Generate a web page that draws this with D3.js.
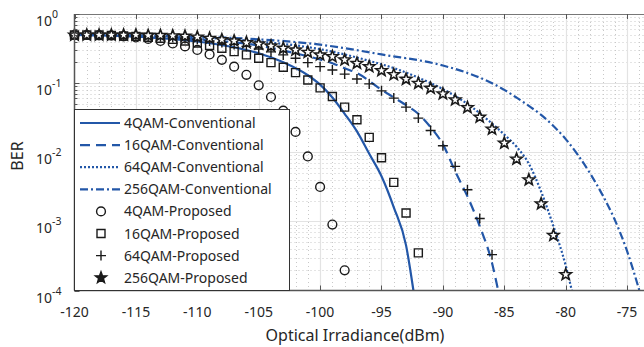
<!DOCTYPE html>
<html>
<head>
<meta charset="utf-8">
<script src="https://cdn.jsdelivr.net/npm/d3@7"></script>
<style>
  body { margin: 0; background: #fff; }
  svg { display: block; font-family: "Noto Sans", sans-serif; }
</style>
</head>
<body>
<svg id="chart" width="644" height="347"></svg>
<script>
// ---- data ----
var xTicks = [-120, -115, -110, -105, -100, -95, -90, -85, -80, -75]
var yTicks = [1, 0.1, 0.01, 0.001, 0.0001]
var yTickExp = ['0', '-1', '-2', '-3', '-4']

// proposed schemes: one marker per dB starting at -120
var qam4PropX = d3.range(-120, -97)
var qam4PropBER = [0.497, 0.497, 0.49, 0.486, 0.474, 0.458, 0.435, 0.407, 0.375, 0.34,
  0.302, 0.26, 0.217, 0.173, 0.132, 0.093, 0.063, 0.040, 0.0197, 0.0087,
  0.00315, 0.0009, 0.000196]

var qam16PropX = d3.range(-120, -91)
var qam16PropBER = [0.497, 0.497, 0.497, 0.49, 0.48, 0.474, 0.46, 0.446, 0.43, 0.407,
  0.38, 0.35, 0.32, 0.286, 0.256, 0.229, 0.198, 0.17, 0.142, 0.111,
  0.0854, 0.064, 0.045, 0.0295, 0.0164, 0.00833, 0.00366, 0.00132, 0.00035]

var qam64PropX = d3.range(-120, -85)
var qam64PropBER = [0.497, 0.497, 0.497, 0.497, 0.49, 0.484, 0.478, 0.469, 0.458, 0.443,
  0.43, 0.408, 0.388, 0.363, 0.34, 0.312, 0.283, 0.256, 0.229, 0.198,
  0.173, 0.155, 0.135, 0.115, 0.0975, 0.0773, 0.0607, 0.045, 0.0312, 0.0206,
  0.0124, 0.00624, 0.00287, 0.0011, 0.00033]

var qam256PropX = d3.range(-120, -79)
var qam256PropBER = [0.497, 0.497, 0.497, 0.497, 0.497, 0.497, 0.49, 0.49, 0.484, 0.478,
  0.465, 0.445, 0.425, 0.408, 0.385, 0.369, 0.345, 0.32, 0.302, 0.28,
  0.256, 0.242, 0.217, 0.194, 0.173, 0.152, 0.133, 0.114, 0.0997, 0.0845,
  0.07, 0.0573, 0.0443, 0.0322, 0.0216, 0.0136, 0.00798, 0.004, 0.0018, 0.00063,
  0.00017]

// conventional schemes (curves)
var qam4ConvX = [-120, -115, -110, -107, -105, -103, -101, -100, -99, -98, -97, -96, -95, -94, -93, -92.4]
var qam4ConvBER = [0.5, 0.47, 0.40, 0.33, 0.27, 0.2, 0.13, 0.095, 0.062, 0.036, 0.02, 0.0095, 0.0045, 0.0016, 0.00045, 0.0001]

var qam16ConvX = [-120, -115, -110, -105, -102, -100, -99, -98, -97, -95, -94, -93, -92, -91, -90, -89, -88, -87, -86, -85.5]
var qam16ConvBER = [0.5, 0.48, 0.43, 0.35, 0.27, 0.22, 0.194, 0.164, 0.14, 0.08, 0.062, 0.048, 0.036, 0.023, 0.013, 0.0053, 0.0023, 0.00085, 0.00025, 0.0001]

var qam64ConvX = [-120, -115, -110, -105, -100, -98, -96, -94, -92, -90, -88, -86, -85, -84, -83, -82, -81, -80, -79.5]
var qam64ConvBER = [0.5, 0.49, 0.46, 0.4, 0.31, 0.26, 0.21, 0.165, 0.12, 0.082, 0.05, 0.026, 0.018, 0.012, 0.0068, 0.0027, 0.00085, 0.00023, 0.0001]

var qam256ConvX = [-120, -110, -105, -100, -98, -95, -90, -87, -85, -84, -83, -82, -81, -80, -79, -78, -77, -76, -75, -74]
var qam256ConvBER = [0.5, 0.47, 0.43, 0.36, 0.32, 0.26, 0.18, 0.12, 0.08, 0.0617, 0.0468, 0.0347, 0.024, 0.0155, 0.0091, 0.0049, 0.0024, 0.00105, 0.00037, 0.0001]

var legendLabels = ['4QAM-Conventional', '16QAM-Conventional', '64QAM-Conventional', '256QAM-Conventional',
  '4QAM-Proposed', '16QAM-Proposed', '64QAM-Proposed', '256QAM-Proposed']

// ---- layout ----
var blue = '#2357a8'
var plotL = 74.5, plotT = 14, plotB = 290.5, plotR = 644

var svg = d3.select('#chart')

var x = d3.scaleLinear().domain([-120, -120 + (plotR - plotL) / 12.28]).range([plotL, plotR])
var y = d3.scaleLog().domain([1e-4, 1]).range([plotB, plotT])

svg.append('clipPath').attr('id', 'plot-clip')
  .append('rect').attr('x', plotL).attr('y', plotT).attr('width', plotR - plotL).attr('height', plotB - plotT)

var grid = svg.append('g').attr('class', 'grid')

// minor grid
var xMinor = d3.range(-120, -73, 1).filter(function (v) { return v % 5 !== 0 })
grid.selectAll('line.xminor').data(xMinor).enter().append('line')
  .attr('x1', function (d) { return Math.round(x(d)) + 0.5 }).attr('x2', function (d) { return Math.round(x(d)) + 0.5 })
  .attr('y1', plotT).attr('y2', plotB)
  .attr('stroke', '#c8c8c8').attr('stroke-width', 1).attr('stroke-dasharray', '1,3')

var yMinor = []
yTicks.slice(1).forEach(function (t) {
  for (var k = 2; k < 10; k++) yMinor.push(t * k)
})
grid.selectAll('line.yminor').data(yMinor).enter().append('line')
  .attr('x1', plotL).attr('x2', plotR)
  .attr('y1', function (d) { return Math.round(y(d)) + 0.5 }).attr('y2', function (d) { return Math.round(y(d)) + 0.5 })
  .attr('stroke', '#c8c8c8').attr('stroke-width', 1).attr('stroke-dasharray', '1,3')

// major grid
grid.selectAll('line.xmajor').data(xTicks.slice(1)).enter().append('line')
  .attr('x1', function (d) { return Math.round(x(d)) + 0.5 }).attr('x2', function (d) { return Math.round(x(d)) + 0.5 })
  .attr('y1', plotT).attr('y2', plotB)
  .attr('stroke', '#e3e3e3').attr('stroke-width', 1.2)
grid.selectAll('line.ymajor').data(yTicks.slice(1, 4)).enter().append('line')
  .attr('x1', plotL).attr('x2', plotR)
  .attr('y1', function (d) { return Math.round(y(d)) + 0.5 }).attr('y2', function (d) { return Math.round(y(d)) + 0.5 })
  .attr('stroke', '#e3e3e3').attr('stroke-width', 1.2)

// ---- conventional curves ----
var convSeries = [
  { xs: qam4ConvX, ys: qam4ConvBER, dash: null },
  { xs: qam16ConvX, ys: qam16ConvBER, dash: '10,6' },
  { xs: qam64ConvX, ys: qam64ConvBER, dash: '2,2' },
  { xs: qam256ConvX, ys: qam256ConvBER, dash: '8,3,2,3' }
]

var line = d3.line()
  .x(function (d) { return x(d[0]) })
  .y(function (d) { return y(d[1]) })
  .curve(d3.curveMonotoneX)

svg.append('g').attr('clip-path', 'url(#plot-clip)')
  .selectAll('path').data(convSeries).enter().append('path')
  .attr('d', function (s) { return line(s.xs.map(function (v, i) { return [v, s.ys[i]] })) })
  .attr('fill', 'none')
  .attr('stroke', blue)
  .attr('stroke-width', 2.2)
  .attr('stroke-dasharray', function (s) { return s.dash })

// ---- proposed markers ----
function starPath(r) {
  var pts = []
  for (var i = 0; i < 10; i++) {
    var rr = i % 2 === 0 ? r : r * 0.42
    var a = -Math.PI / 2 + i * Math.PI / 5
    pts.push([rr * Math.cos(a), rr * Math.sin(a)])
  }
  return 'M' + pts.map(function (p) { return p[0].toFixed(2) + ',' + p[1].toFixed(2) }).join('L') + 'Z'
}
var markerPaths = {
  circle: 'M4.4,0A4.4,4.4 0 1,1 -4.4,0A4.4,4.4 0 1,1 4.4,0Z',
  square: 'M-4,-4H4V4H-4Z',
  plus: 'M-5,0H5M0,-5V5',
  star: starPath(6)
}

var propSeries = [
  { xs: qam4PropX, ys: qam4PropBER, shape: 'circle' },
  { xs: qam16PropX, ys: qam16PropBER, shape: 'square' },
  { xs: qam64PropX, ys: qam64PropBER, shape: 'plus' },
  { xs: qam256PropX, ys: qam256PropBER, shape: 'star' }
]

var markerLayer = svg.append('g')
propSeries.forEach(function (s) {
  markerLayer.append('g').selectAll('path')
    .data(s.xs.map(function (v, i) { return [v, s.ys[i]] }))
    .enter().append('path')
    .attr('transform', function (d) { return 'translate(' + x(d[0]) + ',' + y(d[1]) + ')' })
    .attr('d', markerPaths[s.shape])
    .attr('fill', s.shape === 'star' ? '#fff' : 'none')
    .attr('stroke', '#1a1a1a')
    .attr('stroke-width', s.shape === 'star' ? 1.6 : 1.4)
})

// ---- axes frame and ticks ----
var frame = svg.append('g')
frame.append('line').attr('x1', plotL).attr('x2', plotR).attr('y1', plotT + 0.5).attr('y2', plotT + 0.5).attr('stroke', '#777').attr('stroke-width', 1.2)
frame.append('line').attr('x1', plotL).attr('x2', plotR).attr('y1', plotB).attr('y2', plotB).attr('stroke', '#555').attr('stroke-width', 1.5)
frame.append('line').attr('x1', plotL).attr('x2', plotL).attr('y1', plotT).attr('y2', plotB).attr('stroke', '#555').attr('stroke-width', 1.5)

xTicks.forEach(function (t) {
  var px = Math.round(x(t)) + 0.5
  frame.append('line').attr('x1', px).attr('x2', px).attr('y1', plotB).attr('y2', plotB - 5).attr('stroke', '#555')
  frame.append('line').attr('x1', px).attr('x2', px).attr('y1', plotT).attr('y2', plotT + 5).attr('stroke', '#555')
})
yMinor.forEach(function (t) {
  var py = Math.round(y(t)) + 0.5
  frame.append('line').attr('x1', plotL).attr('x2', plotL + 3).attr('y1', py).attr('y2', py).attr('stroke', '#555')
})
yTicks.forEach(function (t) {
  var py = Math.round(y(t)) + 0.5
  frame.append('line').attr('x1', plotL).attr('x2', plotL + 5).attr('y1', py).attr('y2', py).attr('stroke', '#555')
})

svg.append('g').selectAll('text').data(xTicks).enter().append('text')
  .attr('x', function (d) { return x(d) })
  .attr('y', 317)
  .attr('text-anchor', 'middle')
  .attr('font-size', '14px')
  .attr('fill', '#262626')
  .text(function (d) { return '-' + Math.abs(d) })

var yLab = svg.append('g').selectAll('text').data(yTicks).enter().append('text')
  .attr('x', 36)
  .attr('y', function (d) { return y(d) + 12 })
  .attr('font-size', '14px')
  .attr('fill', '#262626')
yLab.append('tspan').text('10')
yLab.append('tspan')
  .attr('dy', -8)
  .attr('font-size', '10.5px')
  .text(function (d, i) { return yTickExp[i] })

svg.append('text')
  .attr('x', 355).attr('y', 341)
  .attr('text-anchor', 'middle')
  .attr('font-size', '16px')
  .attr('fill', '#262626')
  .text('Optical Irradiance(dBm)')

svg.append('text')
  .attr('transform', 'translate(23,156) rotate(-90)')
  .attr('text-anchor', 'middle')
  .attr('font-size', '16px')
  .attr('fill', '#262626')
  .text('BER')

// ---- legend ----
var legend = svg.append('g').attr('class', 'legend')
legend.append('rect')
  .attr('x', plotL).attr('y', 109.5).attr('width', 215).attr('height', plotB - 109.5)
  .attr('fill', '#fff').attr('stroke', '#333').attr('stroke-width', 1)

legendLabels.forEach(function (lab, i) {
  var ly = 123 + i * 22.1
  if (i < 4) {
    legend.append('line')
      .attr('x1', 80).attr('x2', 120).attr('y1', ly).attr('y2', ly)
      .attr('stroke', blue).attr('stroke-width', 2.2)
      .attr('stroke-dasharray', convSeries[i].dash)
  } else {
    var s = propSeries[i - 4]
    legend.append('path')
      .attr('transform', 'translate(101,' + ly + ')')
      .attr('d', markerPaths[s.shape])
      .attr('fill', s.shape === 'star' ? '#1a1a1a' : 'none')
      .attr('stroke', '#1a1a1a')
      .attr('stroke-width', 1.4)
  }
  legend.append('text')
    .attr('x', 124).attr('y', ly + 5)
    .attr('font-size', '14px')
    .attr('fill', '#262626')
    .text(lab)
})
</script>
</body>
</html>
